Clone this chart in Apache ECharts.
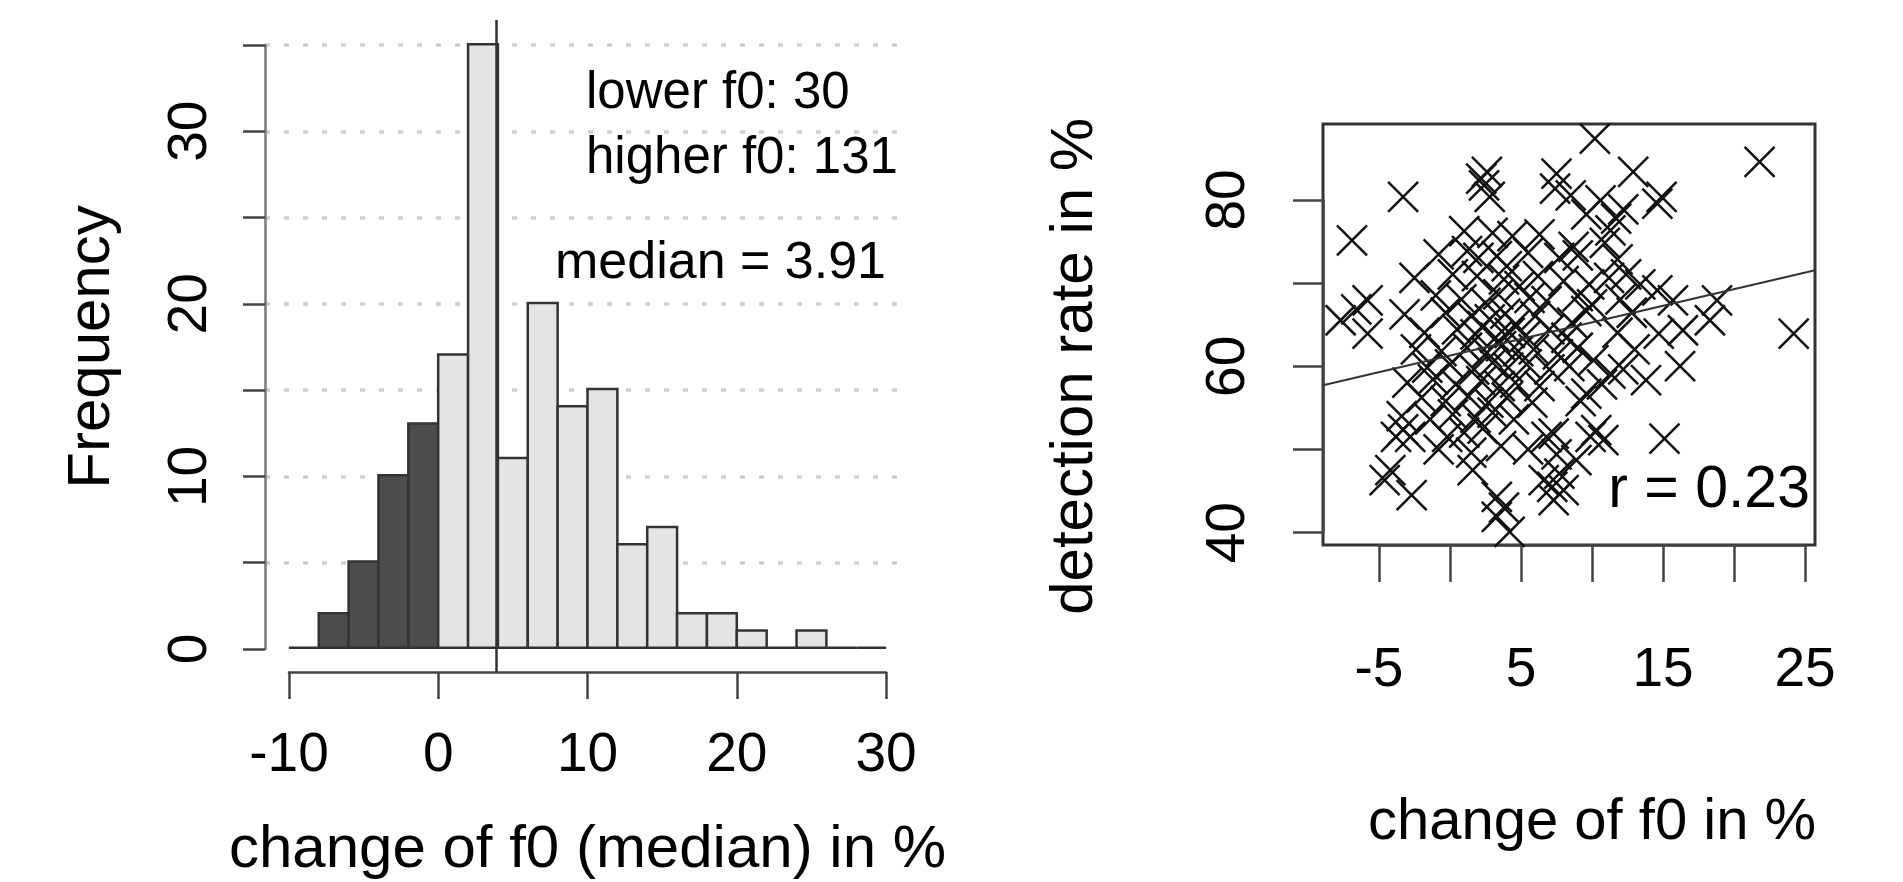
<!DOCTYPE html>
<html>
<head>
<meta charset="utf-8">
<script src="https://cdn.jsdelivr.net/npm/echarts@6/dist/echarts.min.js"></script>
<style>
html, body { margin: 0; padding: 0; background: #fff; }
#chart { width: 1903px; height: 882px; }
</style>
</head>
<body>
<div id="chart"></div>
<script>
// histogram of f0 change (bins of 2 %)
var breaks = [-10, -8, -6, -4, -2, 0, 2, 4, 6, 8, 10, 12, 14, 16, 18, 20, 22, 24, 26, 28, 30]
var counts = [0, 2, 5, 10, 13, 17, 35, 11, 20, 14, 15, 6, 7, 2, 2, 1, 0, 1, 0, 0]
var lowerCount = 30
var higherCount = 131
var medianChange = 3.91

// scatter: change of f0 vs detection rate
var points = [
  [10.2, 87.3], [21.8, 84.5], [-3.3, 80.3], [2.6, 83.3], [2.4, 81.7], [2.8, 80.3], [2.2, 82.5],
  [7.5, 83.1], [7.4, 81.3], [8.5, 80.5], [12.9, 83.3], [14.9, 80.3], [14.6, 79.5], [10.6, 79.9],
  [11.7, 77.7], [11.3, 76.3], [12.2, 78.8], [9.6, 78.2], [-6.9, 75.1], [-7.7, 65.5], [-5.8, 67.9],
  [-5.8, 63.9], [-6.6, 66.8], [24.2, 63.9], [18.8, 67.9], [18.3, 65.5], [15.7, 67.9], [14.6, 69.1],
  [14.7, 63.9], [16.4, 64.3], [16.2, 60.0], [13.8, 58.3], [15.1, 51.3], [11.3, 59.1], [9.6, 56.7],
  [10.1, 60.7],
  [-4.6, 46.3], [-4.2, 47.5], [-2.7, 44.5], [1.6, 47.5], [3.3, 44.3], [3.3, 41.9], [4.2, 40.1],
  [3.8, 43.0], [6.6, 46.3], [7.3, 43.9], [8.0, 45.1], [7.7, 47.1], [8.9, 48.7], [7.2, 45.5],
  [-3.8, 51.5], [-2.8, 51.5], [-3.3, 52.4], [-0.2, 51.5], [2.3, 52.5], [6.8, 51.5], [7.3, 51.9],
  [9.9, 51.5], [10.3, 52.3], [10.8, 51.1], [1.0, 52.0],
  [1.0, 76.2], [3.0, 76.0], [4.4, 75.6], [6.3, 75.8], [8.7, 74.3], [10.9, 74.8],
  [-0.8, 73.4], [1.2, 73.8], [2.0, 73.0], [3.3, 73.2], [4.0, 72.0], [5.5, 73.6], [7.7, 73.0],
  [9.0, 73.3], [11.8, 72.8], [12.4, 71.0],
  [-2.5, 70.6], [0.2, 71.0], [1.9, 70.8], [3.8, 70.4], [4.9, 69.6], [6.2, 70.8], [8.0, 70.2],
  [9.8, 69.8], [11.2, 70.6], [13.4, 69.8],
  [-1.0, 68.5], [0.8, 68.0], [2.5, 67.6], [3.4, 68.6], [5.6, 68.2], [6.8, 67.8], [9.0, 68.4],
  [10.0, 67.4], [12.0, 68.0],
  [-3.2, 66.2], [-0.3, 66.4], [1.5, 66.0], [2.8, 65.6], [3.9, 66.3], [4.6, 65.0], [6.0, 66.0],
  [8.6, 65.2], [9.6, 66.6], [12.8, 66.4],
  [-1.8, 64.0], [0.5, 64.4], [1.8, 63.8], [2.3, 64.8], [3.2, 63.4], [4.2, 64.0], [5.3, 63.6],
  [7.0, 64.4], [8.2, 63.4], [11.8, 64.0],
  [-2.4, 62.0], [-0.6, 61.8], [1.2, 62.2], [2.6, 61.6], [3.6, 62.4], [4.8, 61.8], [5.9, 62.0],
  [7.6, 61.4], [9.0, 62.2], [13.0, 62.0],
  [-1.6, 59.8], [0.0, 60.2], [1.7, 59.6], [3.0, 60.4], [4.1, 59.8], [5.4, 60.2], [7.0, 59.6],
  [8.4, 60.0], [12.2, 59.6],
  [-3.0, 58.0], [-1.2, 58.4], [0.4, 57.8], [2.2, 58.2], [3.5, 57.6], [4.6, 58.0], [6.3, 57.6],
  [10.7, 57.8],
  [-2.0, 56.2], [-0.3, 55.8], [1.3, 56.4], [2.7, 55.6], [4.0, 56.2], [5.8, 55.6], [9.2, 55.8],
  [-3.4, 54.0], [-1.4, 53.6], [0.2, 54.2], [1.8, 53.8], [3.0, 54.4], [4.5, 53.6],
  [-0.8, 50.0], [1.5, 49.6], [3.6, 50.4], [5.5, 50.0], [7.5, 49.4]
]
var fitX = [-8.94, 25.7]
var fitY = [57.7, 71.5]
var corrR = 0.23

var FONT = 'Liberation Sans, Arial, sans-serif'
var AXIS_COLOR = '#444'

var bins = counts.map(function(c, i) {
  return [breaks[i], breaks[i + 1], c]
})

function hidden(grid, min, max) {
  return { gridIndex: grid, type: 'value', min: min, max: max, show: false }
}

function shownAxis(grid, min, max, interval, tickLen, margin, rotate, fmt) {
  return {
    gridIndex: grid,
    type: 'value',
    min: min,
    max: max,
    interval: interval,
    axisLine: { show: true, onZero: false, lineStyle: { color: AXIS_COLOR, width: 2.5 } },
    axisTick: { show: true, length: tickLen, lineStyle: { color: AXIS_COLOR, width: 2.5 } },
    axisLabel: {
      show: true,
      margin: margin,
      rotate: rotate,
      fontSize: 55,
      fontFamily: FONT,
      color: '#000',
      showMinLabel: true,
      showMaxLabel: true,
      hideOverlap: false,
      formatter: fmt
    },
    splitLine: { show: false },
    nameLocation: 'middle',
    nameTextStyle: { fontSize: 60, fontFamily: FONT, color: '#000' }
  }
}

function note(text, x, y, size, align) {
  return {
    type: 'text',
    x: x,
    y: y,
    style: {
      text: text, fontSize: size, fontFamily: FONT, fill: '#000',
      align: align, verticalAlign: 'middle',
      textAlign: align, textVerticalAlign: 'middle'
    }
  }
}

var chart = echarts.init(document.getElementById('chart'), null, { renderer: 'canvas' })

var xAxes = [
  hidden(0, -11.6, 31.6),
  hidden(1, -11.6, 31.6),
  Object.assign(shownAxis(2, -10, 30, 10, 27, 56, 0, function(v) { return String(v) }), {
    name: 'change of f0 (median) in %', nameGap: 148
  }),
  hidden(3, -8.94, 25.7),
  hidden(4, 0, 1),
  Object.assign(shownAxis(5, -5, 25, 5, 37, 98, 0, function(v) {
    return (v + 5) % 10 === 0 ? String(v) : ''
  }), {
    name: 'change of f0 in %', nameGap: 249, nameTextStyle: { fontSize: 58, fontFamily: FONT, color: '#000' }
  })
]

var freqAxis = Object.assign(shownAxis(1, 0, 35, 5, 22, 47, 90, function(v) {
  return v % 10 === 0 ? String(v) : ''
}), { name: 'Frequency', nameGap: 143 })
freqAxis.axisLine.lineStyle.color = '#777'
freqAxis.splitLine = {
  show: true,
  showMinLine: false,
  lineStyle: { color: '#cfcfcf', width: 3.5, type: [5, 14] }
}

var yAxes = [
  hidden(0, -1.4, 36.4),
  freqAxis,
  hidden(2, 0, 1),
  hidden(3, 38.52, 89.06),
  Object.assign(shownAxis(4, 40, 80, 10, 30, 67, 90, function(v) {
    return v % 20 === 0 ? String(v) : ''
  }), { name: 'detection rate in %', nameGap: 218 }),
  hidden(5, 0, 1)
]

chart.setOption({
  animation: false,
  backgroundColor: '#fff',
  textStyle: { fontFamily: FONT },
  grid: [
    { left: 265, top: 20, width: 645, height: 652 },
    { left: 265, top: 45, width: 633, height: 604 },
    { left: 289, top: 600, width: 597, height: 72 },
    { left: 1323, top: 124, width: 492, height: 421, show: true, borderColor: '#333', borderWidth: 3 },
    { left: 1323, top: 200, width: 492, height: 332.7 },
    { left: 1379, top: 445, width: 426, height: 100 }
  ],
  xAxis: xAxes,
  yAxis: yAxes,
  series: [
    {
      type: 'custom',
      xAxisIndex: 0,
      yAxisIndex: 0,
      data: bins,
      renderItem: function(params, api) {
        var x0 = api.value(0)
        var x1 = api.value(1)
        var c = api.value(2)
        var p0 = api.coord([x0, c])
        var p1 = api.coord([x1, 0])
        return {
          type: 'rect',
          shape: { x: p0[0], y: p0[1], width: p1[0] - p0[0], height: p1[1] - p0[1] },
          style: { fill: x1 <= 0 ? '#4d4d4d' : '#e4e4e4', stroke: '#333', lineWidth: 2.5 }
        }
      },
      z: 3
    },
    {
      type: 'line',
      xAxisIndex: 0,
      yAxisIndex: 0,
      data: [],
      markLine: {
        silent: true,
        symbol: 'none',
        label: { show: false },
        lineStyle: { color: '#333', width: 2.5, type: 'solid' },
        data: [{ xAxis: medianChange }]
      },
      z: 4
    },
    {
      type: 'scatter',
      xAxisIndex: 3,
      yAxisIndex: 3,
      data: points,
      symbol: 'path://M0,0L10,10M10,0L0,10',
      symbolSize: 30,
      itemStyle: { color: 'none', borderColor: '#111', borderWidth: 2.5, opacity: 1 },
      silent: true,
      clip: true
    },
    {
      type: 'line',
      xAxisIndex: 3,
      yAxisIndex: 3,
      data: fitX.map(function(x, i) { return [x, fitY[i]] }),
      symbol: 'none',
      lineStyle: { color: '#333', width: 2 },
      silent: true,
      z: 3
    }
  ],
  graphic: [
    note('lower f0: ' + lowerCount, 586, 94, 51, 'left'),
    note('higher f0: ' + higherCount, 586, 159, 51, 'left'),
    note('median = ' + medianChange, 555, 264, 52, 'left'),
    note('r = ' + corrR, 1810, 491, 59, 'right')
  ]
})
</script>
</body>
</html>
